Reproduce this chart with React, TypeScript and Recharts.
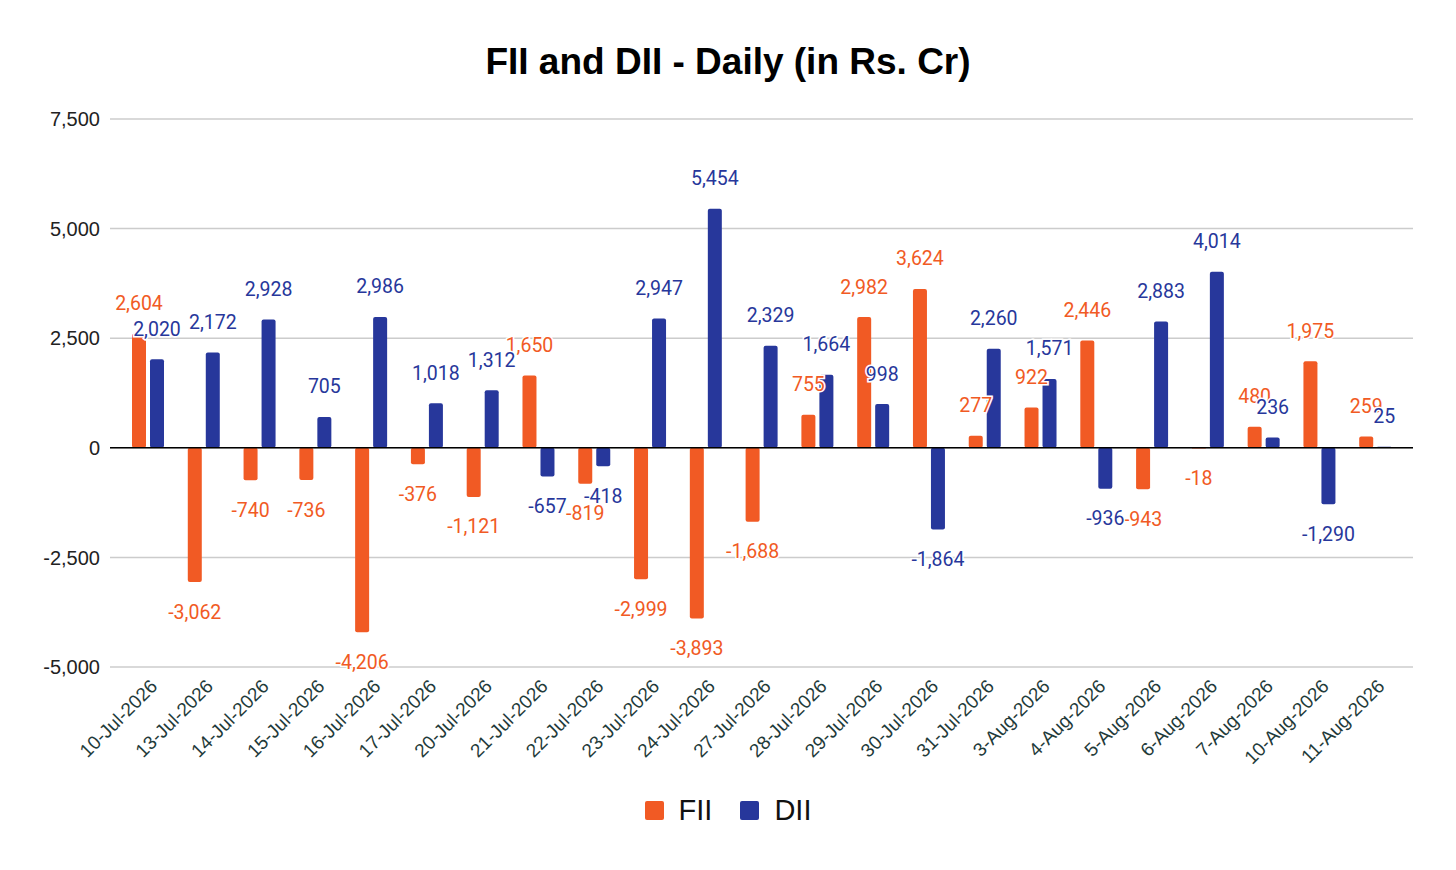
import React from "react";
import { BarChart, Bar, XAxis, YAxis, CartesianGrid, ReferenceLine, Legend, LabelList } from "recharts";

const dates = [
  "10-Jul-2026", "13-Jul-2026", "14-Jul-2026", "15-Jul-2026", "16-Jul-2026", "17-Jul-2026",
  "20-Jul-2026", "21-Jul-2026", "22-Jul-2026", "23-Jul-2026", "24-Jul-2026", "27-Jul-2026",
  "28-Jul-2026", "29-Jul-2026", "30-Jul-2026", "31-Jul-2026", "3-Aug-2026", "4-Aug-2026",
  "5-Aug-2026", "6-Aug-2026", "7-Aug-2026", "10-Aug-2026", "11-Aug-2026",
];
const fiiValues = [2604, -3062, -740, -736, -4206, -376, -1121, 1650, -819, -2999, -3893, -1688, 755, 2982, 3624, 277, 922, 2446, -943, -18, 480, 1975, 259];
const diiValues = [2020, 2172, 2928, 705, 2986, 1018, 1312, -657, -418, 2947, 5454, 2329, 1664, 998, -1864, 2260, 1571, -936, 2883, 4014, 236, -1290, 25];
const yTicks = [-5000, -2500, 0, 2500, 5000, 7500];
const seriesOrder = ["FII", "DII"];

const FII_COLOR = "#F15A24";
const DII_COLOR = "#27379B";

const data = dates.map((d, i) => ({ date: d, FII: fiiValues[i], DII: diiValues[i] }));

const fmt = (v: number) => v.toLocaleString("en-US");

const makeLabel = (color: string) => (props: any) => {
  const { x, y, width, height, value } = props;
  const top = Math.min(y, y + height);
  const bottom = Math.max(y, y + height);
  const cx = x + width / 2;
  const ty = value >= 0 ? top - 30 : bottom + 30;
  return (
    <text
      x={cx}
      y={ty}
      textAnchor="middle"
      dominantBaseline="central"
      fill={color}
      stroke="#fff"
      strokeWidth={3}
      paintOrder="stroke"
      fontFamily="Roboto"
      fontSize={19.5}
    >
      {fmt(value)}
    </text>
  );
};

const XTick = (props: any) => {
  const { x, y, payload } = props;
  return (
    <g transform={`translate(${x + 6},${y + 8})`}>
      <text
        x={0}
        y={0}
        textAnchor="end"
        dominantBaseline="central"
        transform="rotate(-45)"
        fill="#1f3b3a"
        fontFamily="'Liberation Sans', Arial, sans-serif"
        fontSize={19}
      >
        {payload.value}
      </text>
    </g>
  );
};

const LegendContent = (props: any) => {
  const payload = [...(props.payload || [])].sort(
    (a: any, b: any) => seriesOrder.indexOf(a.value) - seriesOrder.indexOf(b.value)
  );
  return (
    <div style={{ display: "flex", justifyContent: "center", alignItems: "center", height: 60 }}>
      {payload.map((p: any, i: number) => (
        <div key={i} style={{ display: "flex", alignItems: "center", marginLeft: i === 0 ? 0 : 28 }}>
          <div style={{ width: 19, height: 19, background: p.color, borderRadius: 2, marginRight: 15 }} />
          <span style={{ fontFamily: "'Liberation Sans', Arial, sans-serif", fontSize: 29, color: "#111" }}>{p.value}</span>
        </div>
      ))}
    </div>
  );
};

export default function App() {
  return (
    <div style={{ position: "relative", width: 1440, height: 854, background: "#fff" }}>
      <div
        style={{
          position: "absolute",
          top: 32,
          left: 0,
          width: 1440,
          textAlign: "center",
          fontFamily: "'Liberation Sans', Arial, sans-serif",
          fontWeight: "bold",
          fontSize: 37,
          color: "#000",
          lineHeight: "44px",
        }}
      >
        FII and DII - Daily (in Rs. Cr)
      </div>
      <BarChart
        width={1440}
        height={854}
        data={data}
        margin={{ top: 111, right: 35, bottom: 22, left: 0 }}
        barSize={14}
        barGap={4}
      >
        <CartesianGrid vertical={false} stroke="#cccccc" strokeWidth={1.5} />
        <XAxis
          dataKey="date"
          axisLine={false}
          tickLine={false}
          interval={0}
          height={113}
          padding={{ left: 10, right: 10 }}
          tick={<XTick />}
        />
        <YAxis
          width={102}
          domain={[-5000, 7500]}
          ticks={yTicks}
          axisLine={false}
          tickLine={false}
          tickMargin={4}
          tickFormatter={fmt}
          tick={{ fill: "#222", fontSize: 20, fontFamily: "'Liberation Sans', Arial, sans-serif" }}
        />
        <ReferenceLine y={0} stroke="#000" strokeWidth={1.5} />
        <Legend
          verticalAlign="bottom"
          height={60}
          content={<LegendContent />}
          wrapperStyle={{ left: 0, width: 1440 }}
        />
        <Bar dataKey="FII" fill={FII_COLOR} radius={2} isAnimationActive={false}>
          <LabelList dataKey="FII" content={makeLabel(FII_COLOR)} />
        </Bar>
        <Bar dataKey="DII" fill={DII_COLOR} radius={2} isAnimationActive={false}>
          <LabelList dataKey="DII" content={makeLabel(DII_COLOR)} />
        </Bar>
      </BarChart>
    </div>
  );
}
